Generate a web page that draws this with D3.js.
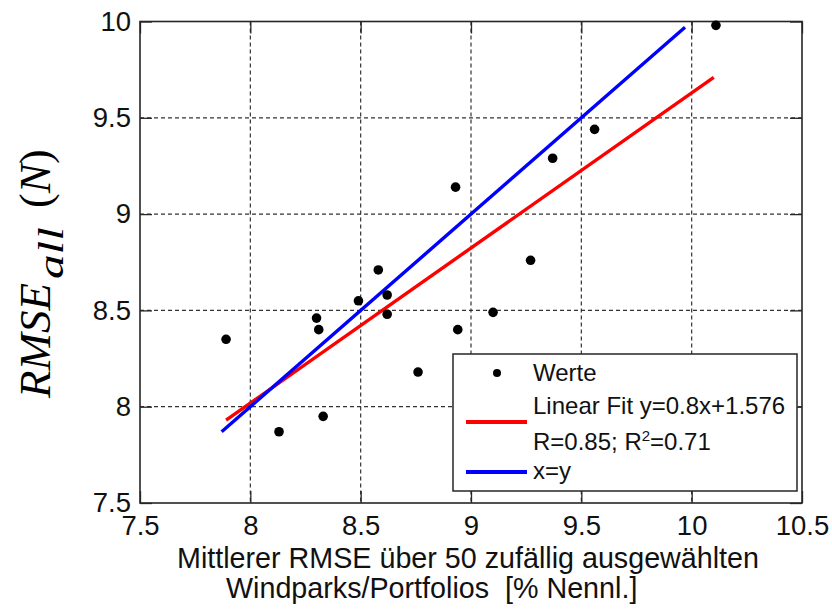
<!DOCTYPE html>
<html><head><meta charset="utf-8">
<script src="https://cdn.jsdelivr.net/npm/d3@7"></script>
<style>body{margin:0;background:#fff}svg{display:block}</style>
</head><body>
<svg id="c" width="832" height="609"></svg>
<script>
const xTicks = [7.5, 8, 8.5, 9, 9.5, 10, 10.5];
const yTicks = [7.5, 8, 8.5, 9, 9.5, 10];
const ptsX = [7.89, 8.13, 8.30, 8.31, 8.33, 8.49, 8.58, 8.62, 8.62, 8.76, 8.93, 8.94, 9.10, 9.27, 9.37, 9.56, 10.11];
const ptsY = [8.35, 7.87, 8.46, 8.40, 7.95, 8.55, 8.71, 8.58, 8.48, 8.18, 9.14, 8.40, 8.49, 8.76, 9.29, 9.44, 9.98];
const fitX = [7.89, 10.10];
const fitY = [7.93, 9.71];
const idX = [7.87, 9.97];
const idY = [7.87, 9.97];
const legendLabels = ["Werte", "Linear Fit y=0.8x+1.576", "x=y"];

const svg = d3.select("#c");
const L = 140, R = 802, T = 21.5, B = 503;
const x = d3.scaleLinear().domain([7.5, 10.5]).range([L, R]);
const y = d3.scaleLinear().domain([7.5, 10]).range([B, T]);
const frame = "#262626";
const font = "'Liberation Sans', Arial, sans-serif";

// grid
const g = svg.append("g");
g.selectAll(".gx").data(xTicks.slice(1, -1)).join("line")
  .attr("x1", d => x(d)).attr("x2", d => x(d)).attr("y1", T).attr("y2", B)
  .attr("stroke", "#333").attr("stroke-width", 1.2).attr("stroke-dasharray", "4,3");
g.selectAll(".gy").data(yTicks.slice(1, -1)).join("line")
  .attr("y1", d => y(d)).attr("y2", d => y(d)).attr("x1", L).attr("x2", R)
  .attr("stroke", "#333").attr("stroke-width", 1.2).attr("stroke-dasharray", "4,3");

// axes
const tl = 12;
const ax = svg.append("g").attr("transform", `translate(0,${B})`)
  .call(d3.axisBottom(x).tickValues(xTicks).tickFormat(d3.format("")).tickSizeInner(-tl).tickSizeOuter(0).tickPadding(12));
const ay = svg.append("g").attr("transform", `translate(${L},0)`)
  .call(d3.axisLeft(y).tickValues(yTicks).tickFormat(d3.format("")).tickSizeInner(-tl).tickSizeOuter(0).tickPadding(9));
const axT = svg.append("g").attr("transform", `translate(0,${T})`)
  .call(d3.axisTop(x).tickValues(xTicks).tickFormat("").tickSizeInner(-tl).tickSizeOuter(0));
const ayR = svg.append("g").attr("transform", `translate(${R},0)`)
  .call(d3.axisRight(y).tickValues(yTicks).tickFormat("").tickSizeInner(-tl).tickSizeOuter(0));
[ax, ay, axT, ayR].forEach(a => {
  a.select(".domain").remove();
  a.selectAll("line").attr("stroke", frame).attr("stroke-width", 1.3);
  a.selectAll("text").attr("fill", "#111").style("font-family", font).style("font-size", "27.5px");
});

svg.append("rect").attr("x", L).attr("y", T).attr("width", R - L).attr("height", B - T)
  .attr("fill", "none").attr("stroke", frame).attr("stroke-width", 1.6);

// lines
const line = d3.line().x(d => x(d[0])).y(d => y(d[1]));
svg.append("path").datum(fitX.map((v, i) => [v, fitY[i]])).attr("d", line)
  .attr("stroke", "#ff0000").attr("stroke-width", 3.4).attr("fill", "none");
svg.append("path").datum(idX.map((v, i) => [v, idY[i]])).attr("d", line)
  .attr("stroke", "#0000ff").attr("stroke-width", 3.4).attr("fill", "none");

// points
svg.selectAll(".pt").data(ptsX.map((v, i) => [v, ptsY[i]])).join("circle")
  .attr("cx", d => x(d[0])).attr("cy", d => y(d[1])).attr("r", 4.8).attr("fill", "#000");

// legend
const lg = svg.append("g");
lg.append("rect").attr("x", 453).attr("y", 354).attr("width", 344).attr("height", 137)
  .attr("fill", "#fff").attr("stroke", frame).attr("stroke-width", 1.5);
lg.append("circle").attr("cx", 497).attr("cy", 373).attr("r", 4).attr("fill", "#000");
lg.append("line").attr("x1", 466).attr("x2", 527).attr("y1", 422).attr("y2", 422)
  .attr("stroke", "#ff0000").attr("stroke-width", 4);
lg.append("line").attr("x1", 466).attr("x2", 527).attr("y1", 472).attr("y2", 472)
  .attr("stroke", "#0000ff").attr("stroke-width", 4);
const lt = (yy) => lg.append("text").attr("x", 533).attr("y", yy)
  .style("font-family", font).style("font-size", "24px").attr("fill", "#111");
lt(381).text(legendLabels[0]);
lt(414).text(legendLabels[1]);
const t3 = lt(450);
t3.append("tspan").text("R=0.85; R");
t3.append("tspan").attr("dy", -9).style("font-size", "15px").text("2");
t3.append("tspan").attr("dy", 9).text("=0.71");
lt(479).text(legendLabels[2]);

// x title
svg.append("text").attr("x", 177).attr("y", 568).style("font-family", font).style("font-size", "28.7px")
  .attr("fill", "#111").text("Mittlerer RMSE über 50 zufällig ausgewählten");
svg.append("text").attr("x", 226).attr("y", 598).style("font-family", font).style("font-size", "28.7px")
  .attr("fill", "#111").style("white-space", "pre")
  .text("Windparks/Portfolios  [% Nennl.]");

// y title (rotated)
const serif = "'Liberation Serif', 'Times New Roman', serif";
const yg = svg.append("g").attr("transform", "translate(50,398) rotate(-90)");
yg.append("text").attr("x", 0).attr("y", 0).style("font-family", serif).style("font-size", "44px")
  .style("font-style", "italic").attr("textLength", 115).attr("lengthAdjust", "spacingAndGlyphs").text("RMSE");
yg.append("text").attr("x", 119).attr("y", 13).style("font-family", serif).style("font-size", "36px")
  .style("font-style", "italic").attr("textLength", 52).attr("lengthAdjust", "spacingAndGlyphs").text("all");
const yn = yg.append("text").attr("x", 190).attr("y", 0).style("font-family", serif).style("font-size", "44px");
yn.append("tspan").text("(");
yn.append("tspan").style("font-style", "italic").text("N");
yn.append("tspan").text(")");
</script>
</body></html>
